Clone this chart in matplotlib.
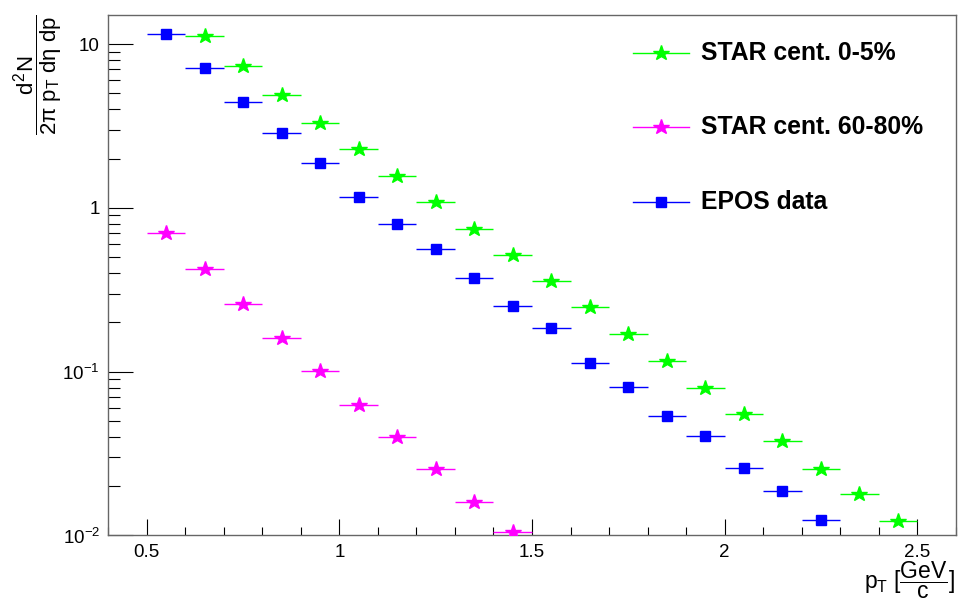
import numpy as np
import matplotlib
matplotlib.use("Agg")
import matplotlib.pyplot as plt
from matplotlib.ticker import FixedLocator, FixedFormatter, MultipleLocator, LogLocator, NullFormatter

# pT bin centres (bin width 0.1 GeV/c)
pt_star_central = [0.65, 0.75, 0.85, 0.95, 1.05, 1.15, 1.25, 1.35, 1.45, 1.55,
                   1.65, 1.75, 1.85, 1.95, 2.05, 2.15, 2.25, 2.35, 2.45]
yield_star_central = [11.2, 7.30, 4.88, 3.32, 2.28, 1.575, 1.083, 0.744, 0.514, 0.358,
                      0.247, 0.170, 0.1167, 0.0792, 0.0554, 0.0376, 0.0256, 0.0178, 0.0123]

pt_star_periph = [0.55, 0.65, 0.75, 0.85, 0.95, 1.05, 1.15, 1.25, 1.35, 1.45]
yield_star_periph = [0.707, 0.426, 0.259, 0.1613, 0.1010, 0.0626, 0.0397, 0.0253, 0.01606, 0.01053]

pt_epos = [0.55, 0.65, 0.75, 0.85, 0.95, 1.05, 1.15, 1.25, 1.35, 1.45,
           1.55, 1.65, 1.75, 1.85, 1.95, 2.05, 2.15, 2.25]
yield_epos = [11.5, 7.10, 4.46, 2.88, 1.876, 1.172, 0.798, 0.559, 0.374, 0.251,
              0.1849, 0.1130, 0.0810, 0.0534, 0.0405, 0.0258, 0.0187, 0.01237]

labels = ["STAR cent. 0-5%", "STAR cent. 60-80%", "EPOS data"]
xticks = [0.5, 1.0, 1.5, 2.0, 2.5]
xtick_labels = ["0.5", "1", "1.5", "2", "2.5"]
yticks = [0.01, 0.1, 1, 10]
ytick_labels = ["$10^{-2}$", "$10^{-1}$", "1", "10"]
half_bin = 0.05

plt.rcParams["font.family"] = ["Liberation Sans", "DejaVu Sans"]
plt.rcParams["mathtext.fontset"] = "custom"
plt.rcParams["mathtext.rm"] = "Liberation Sans"
plt.rcParams["mathtext.it"] = "Liberation Sans"
plt.rcParams["mathtext.bf"] = "Liberation Sans:bold"

fig = plt.figure(figsize=(9.73, 6.01), dpi=100)
ax = fig.add_axes([0.1113, 0.109, 0.8709, 0.8664])

series = [
    (pt_star_central, yield_star_central, "#00ff00", "*", 11.5),
    (pt_star_periph, yield_star_periph, "#ff00ff", "*", 11.5),
    (pt_epos, yield_epos, "#0000ff", "s", 7.8),
]
for x, y, col, mk, ms in series:
    ax.errorbar(x, y, xerr=half_bin, fmt=mk, color=col, ms=ms, mec=col,
                elinewidth=1.0, capsize=0, zorder=3)

ax.set_yscale("log")
ax.set_xlim(0.4, 2.6)
ax.set_ylim(0.01, 15.1)

# ticks
ax.xaxis.set_major_locator(FixedLocator(xticks))
ax.xaxis.set_major_formatter(FixedFormatter(xtick_labels))
ax.xaxis.set_minor_locator(MultipleLocator(0.1))

ax.yaxis.set_major_locator(FixedLocator(yticks))
ax.yaxis.set_major_formatter(FixedFormatter(ytick_labels))
ax.yaxis.set_minor_locator(LogLocator(base=10, subs=np.arange(2, 10)))
ax.yaxis.set_minor_formatter(NullFormatter())

ax.tick_params(axis="both", which="both", direction="in", top=False, right=False,
               color="black", width=0.8, labelsize=13.5)
ax.tick_params(axis="y", which="major", length=18, pad=6)
ax.tick_params(axis="y", which="minor", length=8.8)
ax.tick_params(axis="x", which="major", length=11.5, pad=6)
ax.tick_params(axis="x", which="minor", length=5.5)

for sp in ax.spines.values():
    sp.set_color("#666666")
    sp.set_linewidth(1.0)

# legend drawn in axes coordinates
leg_y = [0.0728, 0.2149, 0.3590]
for (x, y, col, mk, ms), lab, yy in zip(series, labels, leg_y):
    ya = 1 - yy
    ax.plot([0.619, 0.652, 0.685], [ya, ya, ya], color=col, lw=1.0, marker=mk, ms=ms,
            markevery=[1], transform=ax.transAxes, clip_on=False)
    ax.text(0.700, ya, lab, transform=ax.transAxes, fontsize=17.8,
            fontweight="bold", va="center", ha="left")

fig.text(0.039, 0.976, r"$\dfrac{d^{2}N}{2\pi\ p_{T}\ d\eta\ dp}$", rotation=90,
         ha="center", va="top", fontsize=16)
fig.text(0.982, 0.0, r"$p_{T}\ [\dfrac{GeV}{c}]$", ha="right", va="bottom",
         fontsize=16.5)

fig.savefig("out.png", dpi=100, facecolor="white")
